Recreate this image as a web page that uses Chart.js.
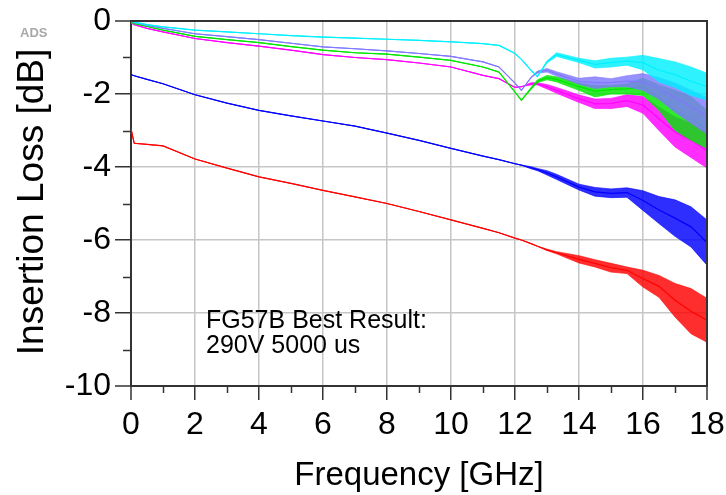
<!DOCTYPE html>
<html>
<head>
<meta charset="utf-8">
<script src="https://cdn.jsdelivr.net/npm/chart.js@4"></script>
<style>
html,body{margin:0;padding:0;background:#fff;}
#wrap{width:726px;height:495px;}
</style>
</head>
<body>
<div id="wrap"><canvas id="c" width="726" height="495"></canvas></div>
<script>
// Frequency grid [GHz]
const freq = [0, 0.1, 0.5, 1, 2, 3, 4, 5, 6, 7, 8, 9, 10, 11, 11.5, 12, 12.2, 12.5, 12.7, 13, 13.3, 14, 14.5, 15, 15.5, 16, 16.5, 17, 17.5, 18];

// Series centre values [dB]
const cyanVals    = [0, -0.03, -0.1, -0.16, -0.25, -0.3, -0.35, -0.4, -0.44, -0.47, -0.5, -0.53, -0.57, -0.62, -0.67, -0.89, -1.05, -1.35, -1.52, -1.12, -0.92, -1.08, -1.19, -1.14, -1.1, -1.14, -1.35, -1.47, -1.65, -1.8];
const purpleVals  = [0, -0.04, -0.12, -0.2, -0.35, -0.43, -0.51, -0.61, -0.71, -0.76, -0.82, -0.89, -0.97, -1.12, -1.26, -1.7, -1.9, -1.55, -1.4, -1.35, -1.45, -1.65, -1.69, -1.69, -1.65, -1.67, -1.85, -2.1, -2.35, -2.6];
const greenVals   = [-0.03, -0.07, -0.15, -0.25, -0.42, -0.51, -0.59, -0.7, -0.8, -0.87, -0.91, -0.99, -1.08, -1.26, -1.4, -1.95, -2.17, -1.85, -1.65, -1.55, -1.6, -1.8, -1.92, -1.88, -1.86, -1.8, -2.1, -2.45, -2.67, -2.97];
const magentaVals = [-0.05, -0.1, -0.2, -0.3, -0.48, -0.59, -0.69, -0.8, -0.92, -1.0, -1.06, -1.15, -1.26, -1.49, -1.58, -1.82, -1.8, -1.72, -1.72, -1.8, -1.9, -2.13, -2.27, -2.26, -2.18, -2.3, -2.68, -3.04, -3.27, -3.55];
const blueVals    = [-1.47, -1.5, -1.6, -1.72, -2.02, -2.25, -2.45, -2.6, -2.74, -2.88, -3.07, -3.27, -3.49, -3.7, -3.8, -3.91, -3.95, -4.02, -4.07, -4.16, -4.27, -4.55, -4.68, -4.72, -4.7, -4.92, -5.18, -5.4, -5.64, -6.07];
const redVals     = [-2.95, -3.35, -3.38, -3.42, -3.78, -4.03, -4.27, -4.45, -4.64, -4.82, -5.0, -5.22, -5.45, -5.68, -5.8, -5.95, -6.0, -6.1, -6.17, -6.27, -6.35, -6.53, -6.64, -6.76, -6.83, -7.06, -7.27, -7.65, -7.95, -8.2];

// Half-width of the ripple band [dB]
const cyanSpread    = [0,0,0,0,0,0,0,0,0,0,0,0,0,0,0,0,0,0,0, 0.03, 0.05, 0.06, 0.1, 0.12, 0.11, 0.2, 0.32, 0.35, 0.39, 0.37];
const purpleSpread  = [0,0,0,0,0,0,0,0,0,0,0,0,0,0,0,0,0,0, 0.03, 0.05, 0.06, 0.08, 0.16, 0.11, 0.15, 0.23, 0.3, 0.4, 0.45, 0.5];
const greenSpread   = [0,0,0,0,0,0,0,0,0,0,0,0,0,0,0,0,0, 0.03, 0.04, 0.06, 0.07, 0.1, 0.16, 0.12, 0.14, 0.24, 0.35, 0.55, 0.6, 0.52];
const magentaSpread = [0,0,0,0,0,0,0,0,0,0,0,0,0,0,0,0,0, 0.03, 0.03, 0.06, 0.08, 0.1, 0.13, 0.14, 0.16, 0.23, 0.32, 0.41, 0.47, 0.48];
const blueSpread    = [0,0,0,0,0,0,0,0,0,0,0,0,0,0,0,0,0, 0.03, 0.03, 0.06, 0.07, 0.08, 0.12, 0.12, 0.13, 0.27, 0.37, 0.5, 0.55, 0.62];
const redSpread     = [0,0,0,0,0,0,0,0,0,0,0,0,0,0,0,0,0,0,0, 0.02, 0.03, 0.1, 0.1, 0.12, 0.09, 0.23, 0.3, 0.46, 0.62, 0.6];

const xTicks = [0, 2, 4, 6, 8, 10, 12, 14, 16, 18];
const yTicks = [0, -2, -4, -6, -8, -10];

const seriesList = [
  {vals: cyanVals,    spread: cyanSpread,    color: '0,240,255'},
  {vals: purpleVals,  spread: purpleSpread,  color: '128,120,255'},
  {vals: greenVals,   spread: greenSpread,   color: '0,230,0'},
  {vals: magentaVals, spread: magentaSpread, color: '255,0,255'},
  {vals: blueVals,    spread: blueSpread,    color: '0,0,255'},
  {vals: redVals,     spread: redSpread,     color: '255,0,0'}
];

const datasets = [];
seriesList.forEach(s => {
  const centre = freq.map((f, i) => ({x: f, y: s.vals[i]}));
  const upper = freq.map((f, i) => ({x: f, y: s.vals[i] + s.spread[i]}));
  const lower = freq.map((f, i) => ({x: f, y: s.vals[i] - s.spread[i]}));
  datasets.push({data: centre, borderColor: 'rgb(' + s.color + ')', borderWidth: 1.2, pointRadius: 0, fill: false, tension: 0});
  const ui = datasets.length;
  datasets.push({data: upper, borderColor: 'rgba(' + s.color + ',0.6)', borderWidth: 1, pointRadius: 0, tension: 0,
                 fill: ui + 1, backgroundColor: 'rgba(' + s.color + ',0.82)'});
  datasets.push({data: lower, borderColor: 'rgba(' + s.color + ',0.6)', borderWidth: 1, pointRadius: 0, tension: 0, fill: false});
});

const FONT = '"Liberation Sans", Arial, sans-serif';
const DARK = '#333333';
const GRID = '#c6c6c6';

const extras = {
  id: 'extras',
  afterDraw(chart) {
    const ctx = chart.ctx;
    const xs = chart.scales.x, ys = chart.scales.y;
    const ca = chart.chartArea;
    ctx.save();
    // minor ticks
    ctx.strokeStyle = DARK;
    ctx.lineWidth = 1.5;
    for (let v = 1; v < 18; v += 2) {
      const px = Math.round(xs.getPixelForValue(v)) + 0.5;
      ctx.beginPath(); ctx.moveTo(px, ca.bottom); ctx.lineTo(px, ca.bottom + 7); ctx.stroke();
    }
    for (let v = -1; v > -10; v -= 2) {
      const py = Math.round(ys.getPixelForValue(v)) + 0.5;
      ctx.beginPath(); ctx.moveTo(ca.left, py); ctx.lineTo(ca.left - 8, py); ctx.stroke();
    }
    // frame top & right
    ctx.lineWidth = 2;
    ctx.beginPath();
    ctx.moveTo(ca.left, ca.top); ctx.lineTo(ca.right, ca.top); ctx.lineTo(ca.right, ca.bottom);
    ctx.stroke();
    // annotation
    ctx.fillStyle = '#000';
    ctx.font = '25px ' + FONT;
    ctx.textAlign = 'left';
    ctx.textBaseline = 'alphabetic';
    ctx.fillText('FG57B Best Result:', 206, 328);
    ctx.fillText('290V 5000 us', 206, 353);
    // ADS
    ctx.fillStyle = '#a8a8a8';
    ctx.font = 'bold 13px ' + FONT;
    ctx.fillText('ADS', 20, 37);
    // axis titles
    ctx.fillStyle = '#000';
    ctx.font = '33px ' + FONT;
    ctx.textAlign = 'center';
    ctx.fillText('Frequency [GHz]', (ca.left + ca.right) / 2, 485);
    ctx.translate(43, 202);
    ctx.rotate(-Math.PI / 2);
    ctx.font = '37px ' + FONT;
    ctx.fillText('Insertion Loss [dB]', 0, 0);
    ctx.restore();
  }
};

new Chart(document.getElementById('c'), {
  type: 'line',
  data: {datasets},
  options: {
    responsive: false,
    animation: false,
    events: [],
    layout: {padding: {top: 21, right: 19, left: 0, bottom: 0}},
    plugins: {legend: {display: false}, tooltip: {enabled: false}},
    scales: {
      x: {
        type: 'linear', min: 0, max: 18,
        afterFit(s) { s.height = 109; s.paddingLeft = 0; s.paddingRight = 0; },
        afterBuildTicks(s) { s.ticks = xTicks.map(v => ({value: v})); },
        ticks: {font: {size: 32, family: FONT}, color: '#000', padding: 6, maxRotation: 0},
        grid: {
          color: c => (c.tick && (c.tick.value === 0 || c.tick.value === 18)) ? DARK : GRID,
          lineWidth: c => (c.tick && (c.tick.value === 0 || c.tick.value === 18)) ? 2 : 1.5,
          tickColor: DARK, tickWidth: 1.5, tickLength: 14
        },
        border: {display: true, color: DARK, width: 2}
      },
      y: {
        type: 'linear', min: -10, max: 0,
        afterFit(s) { s.width = 131; s.paddingTop = 0; s.paddingBottom = 0; },
        afterBuildTicks(s) { s.ticks = yTicks.map(v => ({value: v})); },
        ticks: {font: {size: 32, family: FONT}, color: '#000', padding: 4},
        grid: {
          color: c => (c.tick && (c.tick.value === 0 || c.tick.value === -10)) ? DARK : GRID,
          lineWidth: c => (c.tick && (c.tick.value === 0 || c.tick.value === -10)) ? 2 : 1.5,
          tickColor: DARK, tickWidth: 1.5, tickLength: 16
        },
        border: {display: true, color: DARK, width: 2}
      }
    }
  },
  plugins: [extras]
});
</script>
</body>
</html>
